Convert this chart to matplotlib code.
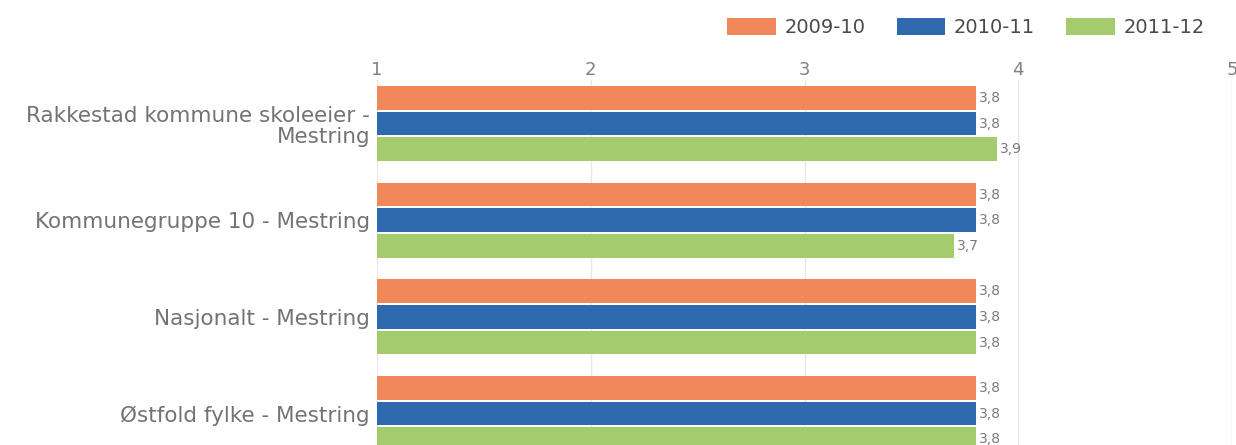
import matplotlib.pyplot as plt
import numpy as np

plt.rcParams['font.family'] = ['DejaVu Sans']

# data
categories = ["Rakkestad kommune skoleeier -\nMestring",
              "Kommunegruppe 10 - Mestring",
              "Nasjonalt - Mestring",
              "Østfold fylke - Mestring"]
series_names = ["2009-10", "2010-11", "2011-12"]
vals_2009 = [3.8, 3.8, 3.8, 3.8]
vals_2010 = [3.8, 3.8, 3.8, 3.8]
vals_2011 = [3.9, 3.7, 3.8, 3.8]
colors = ["#F0885A", "#2F6AAE", "#A4CB6C"]

fig = plt.figure(figsize=(12.36, 4.45), dpi=100)
ax = fig.add_axes([377 / 1236, 0.0, (1232 - 377) / 1236, 1 - 80 / 445])

y = np.arange(len(categories))
pitch = 0.265
height = 0.245
series = [vals_2009, vals_2010, vals_2011]
for i, (vals, name, col) in enumerate(zip(series, series_names, colors)):
    pos = y + (i - 1) * pitch
    bars = ax.barh(pos, np.array(vals) - 1, left=1, height=height,
                   color=col, label=name, zorder=3)
    for b, v in zip(bars, vals):
        ax.text(v + 0.015, b.get_y() + b.get_height() / 2,
                f"{v:.1f}".replace(".", ","), va="center", ha="left",
                fontsize=10, color="#7a7a7a")

ax.set_xlim(1, 5)
ax.set_ylim(3.325, -0.45)
ax.xaxis.tick_top()
ax.set_xticks([1, 2, 3, 4, 5])
ax.tick_params(axis="x", length=0, pad=1, labelsize=13, labelcolor="#808080")
ax.set_yticks(y)
ax.set_yticklabels(categories, fontsize=15.5, color="#737373", linespacing=1.1)
ax.tick_params(axis="y", length=0, pad=5)
ax.grid(axis="x", color="#E8E8E8", linewidth=1, zorder=0)
for s in ax.spines.values():
    s.set_visible(False)

leg = fig.legend(loc="upper right", bbox_to_anchor=(0.989, 1.0), ncol=3,
                 frameon=False, fontsize=14, handlelength=2.5, handleheight=1.0,
                 columnspacing=1.6, handletextpad=0.45)
for t in leg.get_texts():
    t.set_color("#4a4a4a")

fig.savefig("out.png", dpi=100)
